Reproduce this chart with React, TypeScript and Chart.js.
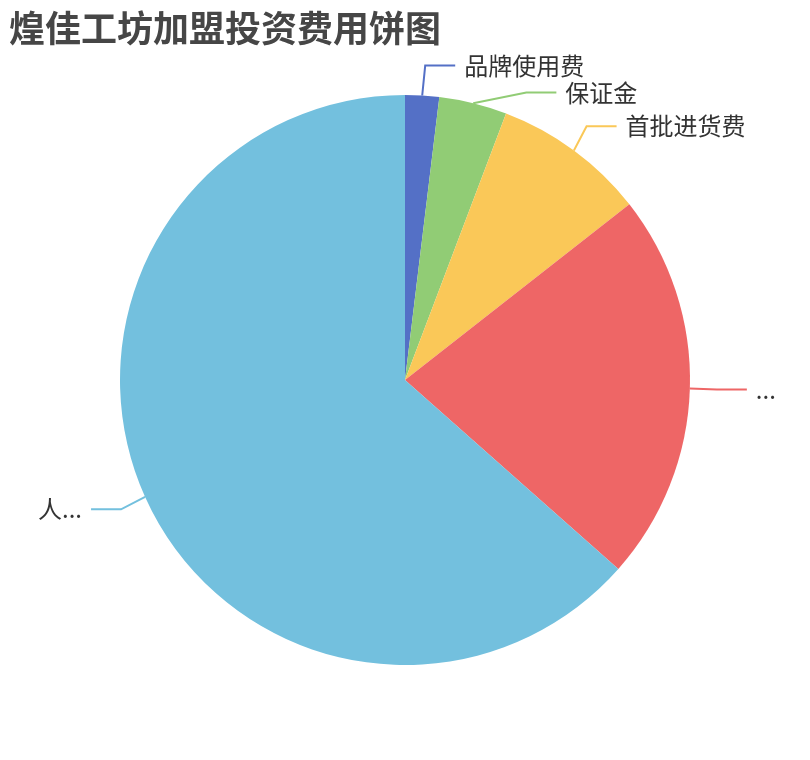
import React, { useEffect, useRef } from 'react';
import { Chart, registerables } from 'chart.js';
import type { Plugin } from 'chart.js';

Chart.register(...registerables);

const title = '煌佳工坊加盟投资费用饼图';
const categories = ['品牌使用费', '保证金', '首批进货费', '...', '人...'];
const costs = [2, 4, 9, 23, 66];
const colors = ['#5470c6', '#91cc75', '#fac858', '#ee6666', '#73c0de'];

const LABEL_FONT = '24px "Noto Sans CJK SC", "Noto Sans", sans-serif';

// echarts-style outside labels with bent leader lines
const pieLabels: Plugin<'pie'> = {
  id: 'pieLabels',
  afterDraw(chart) {
    const ctx = chart.ctx;
    const meta = chart.getDatasetMeta(0);
    const items = meta.data.map((el, i) => {
      const p = (el as any).getProps(['x', 'y', 'startAngle', 'endAngle', 'outerRadius'], true);
      const mid = (p.startAngle + p.endAngle) / 2;
      return {
        i,
        cx: p.x,
        cy: p.y,
        R: p.outerRadius + 27,
        right: Math.cos(mid) >= 0,
        sx: p.x + p.outerRadius * Math.cos(mid),
        sy: p.y + p.outerRadius * Math.sin(mid),
        ly: p.y + (p.outerRadius + 30) * Math.sin(mid),
      };
    });

    const gap = 27;
    [true, false].forEach((side) => {
      const group = items.filter((it) => it.right === side).sort((a, b) => a.ly - b.ly);
      for (let k = 1; k < group.length; k++) {
        if (group[k].ly - group[k - 1].ly < gap) group[k].ly = group[k - 1].ly + gap;
      }
    });

    ctx.save();
    ctx.font = LABEL_FONT;
    ctx.textBaseline = 'middle';
    items.forEach((it) => {
      const dir = it.right ? 1 : -1;
      const dy = it.ly - it.cy;
      let ex = it.cx + dir * Math.sqrt(Math.max(it.R * it.R - dy * dy, 0));
      if (it.right) ex = Math.max(ex, it.sx + 3);
      else ex = Math.min(ex, it.sx - 3);
      const endX = ex + dir * 30;

      ctx.strokeStyle = colors[it.i];
      ctx.lineWidth = 2;
      ctx.beginPath();
      ctx.moveTo(it.sx, it.sy);
      ctx.lineTo(ex, it.ly);
      ctx.lineTo(endX, it.ly);
      ctx.stroke();

      ctx.fillStyle = '#333';
      ctx.textAlign = it.right ? 'left' : 'right';
      ctx.fillText(categories[it.i], endX + dir * 9, it.ly);
    });
    ctx.restore();
  },
};

export default function App() {
  const canvasRef = useRef<HTMLCanvasElement>(null);
  const chartRef = useRef<Chart<'pie'> | null>(null);

  useEffect(() => {
    if (!canvasRef.current) return;
    const ctx = canvasRef.current.getContext('2d');
    if (!ctx) return;

    if (chartRef.current) chartRef.current.destroy();

    chartRef.current = new Chart(ctx, {
      type: 'pie',
      data: {
        labels: categories,
        datasets: [
          {
            data: costs,
            backgroundColor: colors,
            borderWidth: 0,
            hoverOffset: 0,
          },
        ],
      },
      options: {
        responsive: false,
        animation: false,
        layout: { padding: { left: 120, right: 120, top: 95, bottom: 95 } },
        plugins: {
          legend: { display: false },
          tooltip: { enabled: false },
          title: { display: false },
        },
      },
      plugins: [pieLabels],
    });

    return () => chartRef.current?.destroy();
  }, []);

  return (
    <div style={{ position: 'absolute', left: 0, top: 0, width: 810, height: 760, background: '#fff' }}>
      <canvas ref={canvasRef} width={810} height={760} />
      <div
        style={{
          position: 'absolute',
          left: 9,
          top: 0,
          lineHeight: '52px',
          fontFamily: '"Noto Sans CJK SC", sans-serif',
          fontWeight: 'bold',
          fontSize: 36,
          color: '#464646',
        }}
      >
        {title}
      </div>
    </div>
  );
}
